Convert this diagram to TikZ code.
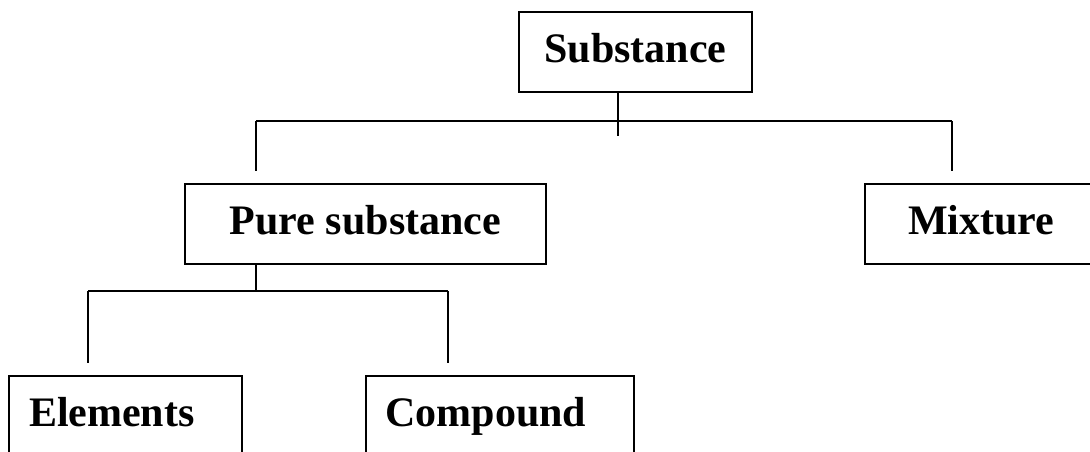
\documentclass[tikz,border=0pt]{standalone}
\usepackage{fontspec}
\setmainfont{Liberation Serif}

\begin{document}
\begin{tikzpicture}[x=1pt,y=-1pt,line width=2pt,
  box/.style={draw,line width=2pt,minimum height=80pt,inner ysep=0pt,
    text height=30pt,text depth=10pt,font=\fontsize{42}{50}\selectfont\bfseries},
  leaf/.style={box,align=left,inner xsep=20pt}]
\useasboundingbox (0,0) rectangle (1090,451);

\node[box,minimum width=233pt] (sub) at (635.5,52) {Substance};
\node[box,minimum width=361pt] (pure) at (365.5,224) {Pure substance};
\node[leaf,inner xsep=43pt,text width=200pt] (mix) at (1008,224) {Mixture};
\node[leaf,text width=193pt] (elem) at (125.5,416) {Elements};
\node[leaf,text width=228pt] (comp) at (499.5,416) {Compound};

% top level
\coordinate (subdrop) at (618,121);
\coordinate (busl) at (256,121);
\coordinate (busr) at (952,121);
\draw (sub.south -| subdrop) -- ++(0,43);
\draw (busl) -- (busr);
\draw (busl) -- ++(0,50);
\draw (busr) -- ++(0,50);

% pure substance
\coordinate (puredrop) at (256,291);
\coordinate (elbus) at (88,291);
\coordinate (cobus) at (448,291);
\draw (pure.south -| puredrop) -- (puredrop);
\draw (elbus) -- (cobus);
\draw (elbus) -- ++(0,72);
\draw (cobus) -- ++(0,72);

\end{tikzpicture}
\end{document}
